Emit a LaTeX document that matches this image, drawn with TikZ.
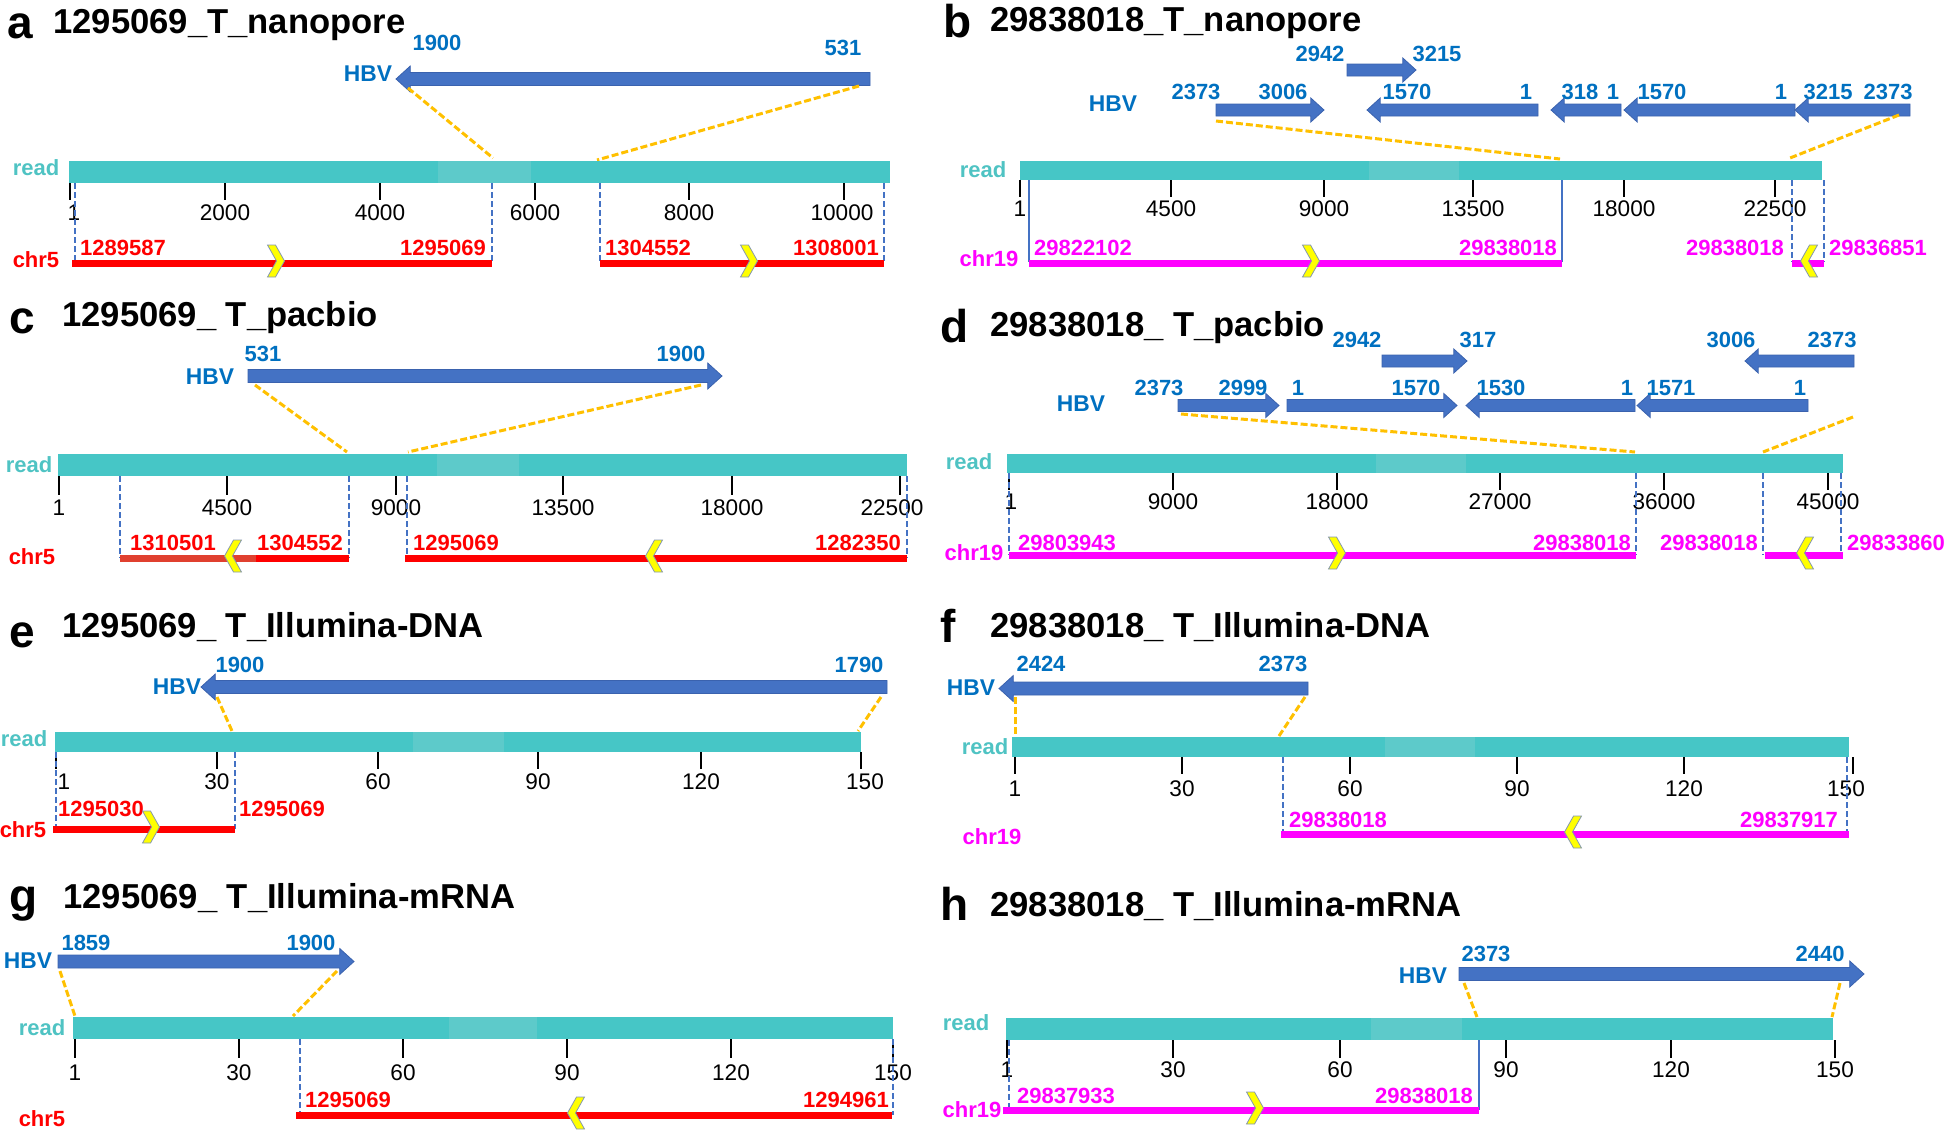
\documentclass[tikz,border=0pt]{standalone}
\usepackage{fontspec}
\setmainfont{Liberation Sans}

\definecolor{hbvblue}{HTML}{4472C4}
\definecolor{hbvedge}{HTML}{3A62AE}
\definecolor{hbvtext}{HTML}{0070C0}
\definecolor{readcol}{HTML}{46C6C6}
\definecolor{readlight}{HTML}{5DCACA}
\definecolor{readtext}{HTML}{4FC3C3}
\definecolor{linkorange}{HTML}{FFC000}
\definecolor{bnddash}{HTML}{4472C4}
\definecolor{chrred}{HTML}{FF0000}
\definecolor{darkred}{HTML}{E0402F}
\definecolor{chrmag}{HTML}{FF00FF}
\definecolor{chevfill}{HTML}{FFFF00}
\definecolor{chevline}{HTML}{8497B0}

% HBV segment: [half shaft] {tail x}{tip x}{y}
\newcommand{\hbvarrow}[4][6.5]{%
  \pgfmathsetmacro{\hbvdir}{ifthenelse(#3>#2,1,-1)}%
  \filldraw[hbvshape] ({#2},{#4-#1}) -- ({#3-\hbvdir*2.2*#1},{#4-#1})
    -- ({#3-\hbvdir*2.2*#1},{#4-2*#1}) -- ({#3},{#4})
    -- ({#3-\hbvdir*2.2*#1},{#4+2*#1}) -- ({#3-\hbvdir*2.2*#1},{#4+#1})
    -- ({#2},{#4+#1}) -- cycle;}

\begin{document}
\begin{tikzpicture}[%
    x=0.5pt, y=-0.5pt,          % one unit per pixel, y runs downwards
    line cap=butt,
    ]
% -------------------------------------------------
% Styles for labels, bars and links
\tikzset{
  lett/.style={anchor=base west, inner sep=0, font=\fontsize{23}{26}\selectfont\bfseries},
  ttl/.style={anchor=base west, inner sep=0, font=\fontsize{17.3}{20}\selectfont\bfseries},
  hbvn/.style={inner sep=0, text=hbvtext, font=\fontsize{11}{13}\selectfont\bfseries},
  hbvlab/.style={inner sep=0, text=hbvtext, font=\fontsize{11.4}{13}\selectfont\bfseries},
  hbvshape/.style={fill=hbvblue, draw=hbvedge, line width=0.4pt},
  rlab/.style={inner sep=0, text=readtext, font=\fontsize{11}{13}\selectfont\bfseries},
  clab/.style={inner sep=0, font=\fontsize{11}{13}\selectfont\bfseries},
  gpos/.style={inner sep=0, font=\fontsize{11}{13}\selectfont\bfseries},
  tlab/.style={inner sep=0, font=\fontsize{11.3}{13}\selectfont},
  tmark/.style={draw=black, line width=1.3pt},
  link/.style={draw=linkorange, line width=1.5pt, dash pattern=on 3.5pt off 1.5pt},
  bnd/.style={draw=bnddash, line width=0.8pt, dash pattern=on 3pt off 1.5pt},
  chrom/.style={line width=3.5pt},
  chev/.style={fill=chevfill, draw=chevline, line width=0.4pt},
  fwd/.pic={\filldraw[chev] (-8.5,-16) -- (-0.5,-16) -- (8.5,0) -- (-0.5,16)
            -- (-8.5,16) -- (0.5,0) -- cycle;},
  rev/.pic={\filldraw[chev] (8.5,-16) -- (0.5,-16) -- (-8.5,0) -- (0.5,16)
            -- (8.5,16) -- (-0.5,0) -- cycle;},
}
\useasboundingbox (0,0) rectangle (1948,1130);

% -------------------------------------------------
% a: 1295069_T_nanopore
\node[lett] (a-let) at (7,38) {a};
\node[ttl] (a-ttl) at (53,33) {1295069\_T\_nanopore};
\hbvarrow{870}{396}{79}
\node[hbvn] (a-h1) at (437,43) {1900};
\node[hbvn] (a-h2) at (843,48) {531};
\node[hbvlab] (a-hbv) at (368,74) {HBV};
\draw[link] (408,88) -- (493,158);
\draw[link] (859,86) -- (597,160);
\fill[readcol] (69,161) rectangle (890,183);
\fill[readlight] (438,161) rectangle (531,183);
\node[rlab] (a-read) at (36,168) {read};
\foreach \x/\lx/\t [count=\i] in {70/74/1,225/225/2000,380/380/4000,535/535/6000,689/689/8000,844/842/10000}
  {\draw[tmark] (\x,183) -- (\x,200); \node[tlab] (a-t\i) at (\lx,213) {\t};}
\draw[bnd] (75,183) -- (75,262) (492,183) -- (492,262) (600,183) -- (600,262) (884,183) -- (884,262);
\draw[chrom, chrred] (72,263.5) -- (492,263.5) (600,263.5) -- (884,263.5);
\node[clab, text=chrred] (a-chr) at (36,260) {chr5};
\node[gpos, text=chrred] (a-g1) at (123,248) {1289587};
\node[gpos, text=chrred] (a-g2) at (443,248) {1295069};
\node[gpos, text=chrred] (a-g3) at (648,248) {1304552};
\node[gpos, text=chrred] (a-g4) at (836,248) {1308001};
\pic at (276,261) {fwd};
\pic at (749,261) {fwd};

% -------------------------------------------------
% b: 29838018_T_nanopore
\node[lett] (b-let) at (943,37) {b};
\node[ttl] (b-ttl) at (990,31) {29838018\_T\_nanopore};
\hbvarrow[6]{1347}{1416}{70}
\hbvarrow[6]{1216}{1324}{110}
\hbvarrow[6]{1538}{1367}{110}
\hbvarrow[6]{1621}{1551}{110}
\hbvarrow[6]{1795}{1624}{110}
\hbvarrow[6]{1910}{1795}{110}
\node[hbvn] (b-h1) at (1320,54) {2942};
\node[hbvn] (b-h2) at (1437,54) {3215};
\foreach \x/\t [count=\i] in {1196/2373,1283/3006,1407/1570,1526/1,1580/318,1613/1,1662/1570,1781/1,1828/3215,1888/2373}
  {\node[hbvn] (b-r\i) at (\x,92) {\t};}
\node[hbvlab] (b-hbv) at (1113,104) {HBV};
\draw[link] (1216,121) -- (1560,159);
\draw[link] (1899,115) -- (1790,158);
\fill[readcol] (1020,161) rectangle (1822,180);
\fill[readlight] (1369,161) rectangle (1459,180);
\node[rlab] (b-read) at (983,170) {read};
\foreach \x/\lx/\t [count=\i] in {1020/1020/1,1171/1171/4500,1324/1324/9000,1473/1473/13500,1624/1624/18000,1775/1775/22500}
  {\draw[tmark] (\x,180) -- (\x,197); \node[tlab] (b-t\i) at (\lx,209) {\t};}
\draw[bnd, solid] (1029,180) -- (1029,262) (1562,180) -- (1562,262);
\draw[bnd] (1792,180) -- (1792,262) (1824,180) -- (1824,262);
\draw[chrom, chrmag] (1029,263.5) -- (1562,263.5) (1792,263.5) -- (1824,263.5);
\node[clab, text=chrmag] (b-chr) at (989,259) {chr19};
\node[gpos, text=chrmag] (b-g1) at (1083,248) {29822102};
\node[gpos, text=chrmag] (b-g2) at (1508,248) {29838018};
\node[gpos, text=chrmag] (b-g3) at (1735,248) {29838018};
\node[gpos, text=chrmag] (b-g4) at (1878,248) {29836851};
\pic at (1311,261) {fwd};
\pic at (1809,261) {rev};

% -------------------------------------------------
% c: 1295069_ T_pacbio
\node[lett] (c-let) at (9,333) {c};
\node[ttl] (c-ttl) at (62,326) {1295069\_ T\_pacbio};
\hbvarrow{248}{722}{376}
\node[hbvn] (c-h1) at (263,354) {531};
\node[hbvn] (c-h2) at (681,354) {1900};
\node[hbvlab] (c-hbv) at (210,377) {HBV};
\draw[link] (255,385) -- (347,452);
\draw[link] (701,385) -- (408,452);
\fill[readcol] (58,454) rectangle (907,476);
\fill[readlight] (437,454) rectangle (519,476);
\node[rlab] (c-read) at (29,465) {read};
\foreach \x/\lx/\t [count=\i] in {59/59/1,227/227/4500,396/396/9000,563/563/13500,732/732/18000,900/892/22500}
  {\draw[tmark] (\x,476) -- (\x,495); \node[tlab] (c-t\i) at (\lx,508) {\t};}
\draw[bnd] (120,476) -- (120,558) (349,476) -- (349,558) (407,476) -- (407,558) (907,476) -- (907,558);
\draw[chrom, darkred] (120,558.5) -- (256,558.5);
\draw[chrom, chrred] (256,558.5) -- (349,558.5) (405,558.5) -- (907,558.5);
\node[clab, text=chrred] (c-chr) at (32,557) {chr5};
\node[gpos, text=chrred] (c-g1) at (173,543) {1310501};
\node[gpos, text=chrred] (c-g2) at (300,543) {1304552};
\node[gpos, text=chrred] (c-g3) at (456,543) {1295069};
\node[gpos, text=chrred] (c-g4) at (858,543) {1282350};
\pic at (233,556) {rev};
\pic at (654,556) {rev};

% -------------------------------------------------
% d: 29838018_ T_pacbio
\node[lett] (d-let) at (940,342) {d};
\node[ttl] (d-ttl) at (990,336) {29838018\_ T\_pacbio};
\hbvarrow[6]{1382}{1467}{361}
\hbvarrow[6]{1854}{1745}{361}
\hbvarrow[6]{1178}{1279}{405.5}
\hbvarrow[6]{1287}{1457}{405.5}
\hbvarrow[6]{1635}{1466}{405.5}
\hbvarrow[6]{1808}{1637}{405.5}
\foreach \x/\t [count=\i] in {1357/2942,1478/317,1731/3006,1832/2373}
  {\node[hbvn] (d-u\i) at (\x,340) {\t};}
\foreach \x/\t [count=\i] in {1159/2373,1243/2999,1298/1,1416/1570,1501/1530,1627/1,1671/1571,1800/1}
  {\node[hbvn] (d-r\i) at (\x,388) {\t};}
\node[hbvlab] (d-hbv) at (1081,404) {HBV};
\draw[link] (1181,414) -- (1635,452);
\draw[link] (1853,417) -- (1763,452);
\fill[readcol] (1007,454) rectangle (1843,473);
\fill[readlight] (1376,454) rectangle (1466,473);
\node[rlab] (d-read) at (969,462) {read};
\foreach \x/\lx/\t [count=\i] in {1009/1011/1,1173/1173/9000,1337/1337/18000,1500/1500/27000,1664/1664/36000,1828/1828/45000}
  {\draw[tmark] (\x,473) -- (\x,490); \node[tlab] (d-t\i) at (\lx,502) {\t};}
\draw[bnd] (1009,473) -- (1009,555) (1636,473) -- (1636,555) (1763,473) -- (1763,555) (1841,473) -- (1841,555);
\draw[chrom, chrmag] (1009,555.5) -- (1636,555.5) (1765,555.5) -- (1843,555.5);
\node[clab, text=chrmag] (d-chr) at (974,553) {chr19};
\node[gpos, text=chrmag] (d-g1) at (1067,543) {29803943};
\node[gpos, text=chrmag] (d-g2) at (1582,543) {29838018};
\node[gpos, text=chrmag] (d-g3) at (1709,543) {29838018};
\node[gpos, text=chrmag] (d-g4) at (1896,543) {29833860};
\pic at (1337,553) {fwd};
\pic at (1805,553) {rev};

% -------------------------------------------------
% e: 1295069_ T_Illumina-DNA
\node[lett] (e-let) at (9,647) {e};
\node[ttl] (e-ttl) at (62,637) {1295069\_ T\_Illumina-DNA};
\hbvarrow{887}{201}{687}
\node[hbvn] (e-h1) at (240,665) {1900};
\node[hbvn] (e-h2) at (859,665) {1790};
\node[hbvlab] (e-hbv) at (177,687) {HBV};
\draw[link] (217,697) -- (232,731);
\draw[link] (881,697) -- (858,731);
\fill[readcol] (55,732) rectangle (861,752);
\fill[readlight] (413,732) rectangle (504,752);
\node[rlab] (e-read) at (24,739) {read};
\foreach \x/\lx/\t [count=\i] in {56/64/1,217/217/30,378/378/60,538/538/90,701/701/120,861/865/150}
  {\draw[tmark] (\x,752) -- (\x,769); \node[tlab] (e-t\i) at (\lx,782) {\t};}
\draw[bnd] (56,752) -- (56,829) (235,752) -- (235,829);
\draw[chrom, chrred] (53,829) -- (235,829);
\node[clab, text=chrred] (e-chr) at (23,830) {chr5};
\node[gpos, text=chrred] (e-g1) at (101,809) {1295030};
\node[gpos, text=chrred] (e-g2) at (282,809) {1295069};
\pic at (151,827) {fwd};

% -------------------------------------------------
% f: 29838018_ T_Illumina-DNA
\node[lett] (f-let) at (940,642) {f};
\node[ttl] (f-ttl) at (990,637) {29838018\_ T\_Illumina-DNA};
\hbvarrow{1308}{999}{688.5}
\node[hbvn] (f-h1) at (1041,664) {2424};
\node[hbvn] (f-h2) at (1283,664) {2373};
\node[hbvlab] (f-hbv) at (971,688) {HBV};
\draw[link] (1015,697) -- (1015,736);
\draw[link] (1305,697) -- (1279,736);
\fill[readcol] (1012,737) rectangle (1849,757);
\fill[readlight] (1385,737) rectangle (1475,757);
\node[rlab] (f-read) at (985,747) {read};
\foreach \x/\lx/\t [count=\i] in {1015/1015/1,1182/1182/30,1350/1350/60,1517/1517/90,1684/1684/120,1853/1846/150}
  {\draw[tmark] (\x,757) -- (\x,774); \node[tlab] (f-t\i) at (\lx,789) {\t};}
\draw[bnd] (1283,757) -- (1283,834) (1847,757) -- (1847,834);
\draw[chrom, chrmag] (1281,834) -- (1849,834);
\node[clab, text=chrmag] (f-chr) at (992,837) {chr19};
\node[gpos, text=chrmag] (f-g1) at (1338,820) {29838018};
\node[gpos, text=chrmag] (f-g2) at (1789,820) {29837917};
\pic at (1573,832) {rev};

% -------------------------------------------------
% g: 1295069_ T_Illumina-mRNA
\node[lett] (g-let) at (9,911) {g};
\node[ttl] (g-ttl) at (63,908) {1295069\_ T\_Illumina-mRNA};
\hbvarrow{58}{354}{961.5}
\node[hbvn] (g-h1) at (86,943) {1859};
\node[hbvn] (g-h2) at (311,943) {1900};
\node[hbvlab] (g-hbv) at (28,961) {HBV};
\draw[link] (60,971) -- (75,1016);
\draw[link] (337,971) -- (293,1016);
\fill[readcol] (73,1017) rectangle (893,1039);
\fill[readlight] (449,1017) rectangle (537,1039);
\node[rlab] (g-read) at (42,1028) {read};
\foreach \x/\lx/\t [count=\i] in {75/75/1,239/239/30,403/403/60,567/567/90,731/731/120,893/893/150}
  {\draw[tmark] (\x,1039) -- (\x,1058); \node[tlab] (g-t\i) at (\lx,1073) {\t};}
\draw[bnd] (300,1039) -- (300,1115) (893,1039) -- (893,1115);
\draw[chrom, chrred] (296,1115) -- (892,1115);
\node[clab, text=chrred] (g-chr) at (42,1119) {chr5};
\node[gpos, text=chrred] (g-g1) at (348,1100) {1295069};
\node[gpos, text=chrred] (g-g2) at (846,1100) {1294961};
\pic at (576,1113) {rev};

% -------------------------------------------------
% h: 29838018_ T_Illumina-mRNA
\node[lett] (h-let) at (940,920) {h};
\node[ttl] (h-ttl) at (990,916) {29838018\_ T\_Illumina-mRNA};
\hbvarrow{1459}{1864}{974}
\node[hbvn] (h-h1) at (1486,954) {2373};
\node[hbvn] (h-h2) at (1820,954) {2440};
\node[hbvlab] (h-hbv) at (1423,976) {HBV};
\draw[link] (1464,983) -- (1477,1017);
\draw[link] (1840,983) -- (1832,1017);
\fill[readcol] (1006,1018) rectangle (1833,1040);
\fill[readlight] (1371,1018) rectangle (1462,1040);
\node[rlab] (h-read) at (966,1023) {read};
\foreach \x/\lx/\t [count=\i] in {1007/1007/1,1173/1173/30,1340/1340/60,1506/1506/90,1671/1671/120,1835/1835/150}
  {\draw[tmark] (\x,1040) -- (\x,1058); \node[tlab] (h-t\i) at (\lx,1070) {\t};}
\draw[bnd] (1009,1040) -- (1009,1110);
\draw[bnd, solid] (1479,1040) -- (1479,1110);
\draw[chrom, chrmag] (1003,1110.5) -- (1479,1110.5);
\node[clab, text=chrmag] (h-chr) at (972,1110) {chr19};
\node[gpos, text=chrmag] (h-g1) at (1066,1096) {29837933};
\node[gpos, text=chrmag] (h-g2) at (1424,1096) {29838018};
\pic at (1255,1108) {fwd};

% -------------------------------------------------
\end{tikzpicture}
\end{document}
